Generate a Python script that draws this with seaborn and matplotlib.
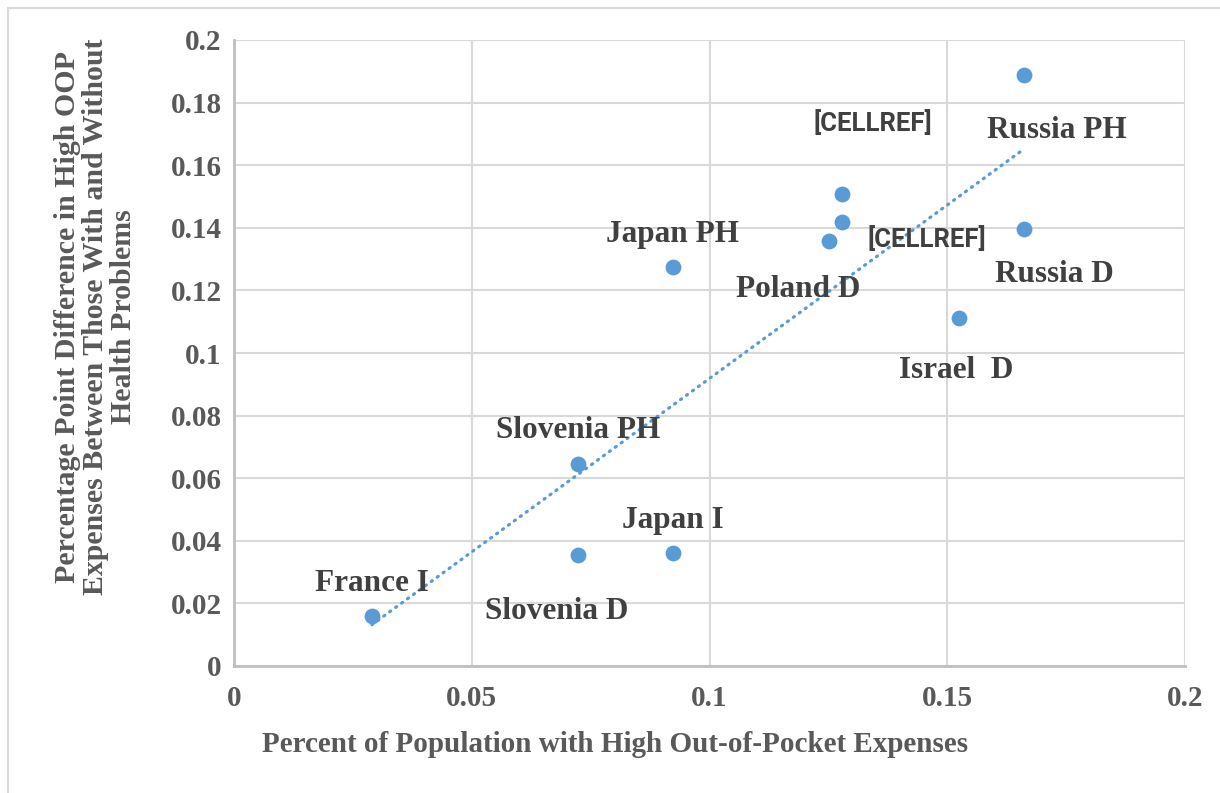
import matplotlib
matplotlib.use("Agg")
import matplotlib.pyplot as plt
from matplotlib.lines import Line2D
import numpy as np
import pandas as pd
import seaborn as sns

# Share of population with high out-of-pocket expenses vs. the gap between
# people with and without health problems
labels = ["France I", "Slovenia D", "Slovenia PH", "Japan I", "Japan PH",
          "Poland D", "[CELLREF]", "[CELLREF]", "Israel  D", "Russia D", "Russia PH"]
pct_high_oop = [0.0290, 0.0723, 0.0723, 0.0923, 0.0923,
                0.1251, 0.1279, 0.1279, 0.1525, 0.1661, 0.1661]
gap_health = [0.0160, 0.0355, 0.0645, 0.0361, 0.1275,
              0.1358, 0.1508, 0.1419, 0.1112, 0.1396, 0.1888]

x_ticks = [0, 0.05, 0.1, 0.15, 0.2]
x_tick_labels = ["0", "0.05", "0.1", "0.15", "0.2"]
y_ticks = [0, 0.02, 0.04, 0.06, 0.08, 0.1, 0.12, 0.14, 0.16, 0.18, 0.2]
y_tick_labels = ["0", "0.02", "0.04", "0.06", "0.08", "0.1",
                 "0.12", "0.14", "0.16", "0.18", "0.2"]

# label placement (offset in points from each marker)
label_offsets = [(0, 18), (-15, -46), (0, 19), (0, 18), (0, 18),
                 (-22, -40), (22, 45), (61, -18), (-2, -43), (22, -38), (24, -45)]

df = pd.DataFrame({"label": labels, "x": pct_high_oop, "y": gap_health})

sns.set_theme(style="white")
plt.rcParams["font.family"] = ["Liberation Serif", "DejaVu Serif"]

blue = "#5b9bd5"
text_dark = "#404040"
text_grey = "#595959"
grid_col = "#d9d9d9"

fig = plt.figure(figsize=(12.2, 7.93), dpi=100)
ax = fig.add_axes([234 / 1220, 127 / 793, 951 / 1220, 626 / 793])

ax.set_xlim(0, 0.2)
ax.set_ylim(0, 0.2)
ax.set_xticks(x_ticks)
ax.set_xticklabels(x_tick_labels)
ax.set_yticks(y_ticks)
ax.set_yticklabels(y_tick_labels)
ax.grid(True, color=grid_col, linewidth=1.5)
ax.set_axisbelow(True)

# dotted linear trend line
sns.regplot(data=df, x="x", y="y", ax=ax, scatter=False, ci=None, truncate=True,
            line_kws=dict(color=blue, linewidth=2.3, linestyle=(0, (0.4, 1.9)),
                          dash_capstyle="round", zorder=2))

sns.scatterplot(data=df, x="x", y="y", ax=ax, s=130, color=blue,
                edgecolor=blue, linewidth=0, zorder=3, legend=False)

ax.set_xlim(0, 0.2)
ax.set_ylim(0, 0.2)

for lab, xv, yv, off in zip(labels, pct_high_oop, gap_health, label_offsets):
    if lab.startswith("["):
        ax.annotate(lab, (xv, yv), xytext=off, textcoords="offset points",
                    ha="center", va="baseline", fontsize=18.5, fontweight="bold",
                    family=["Roboto", "DejaVu Sans"], color=text_dark, zorder=4)
    else:
        ax.annotate(lab, (xv, yv), xytext=off, textcoords="offset points",
                    ha="center", va="baseline", fontsize=22.5, fontweight="bold",
                    color=text_dark, zorder=4)

for side in ["top", "right"]:
    ax.spines[side].set_visible(False)
for side in ["left", "bottom"]:
    ax.spines[side].set_color("#bfbfbf")
    ax.spines[side].set_linewidth(2)

ax.tick_params(axis="both", length=0, labelsize=21, labelcolor=text_grey)
ax.tick_params(axis="y", pad=9)
ax.tick_params(axis="x", pad=14)
for t in ax.get_xticklabels() + ax.get_yticklabels():
    t.set_fontweight("bold")

ax.set_xlabel("Percent of Population with High Out-of-Pocket Expenses",
              fontsize=21, fontweight="bold", color=text_grey,
              ha="center", va="center")
ax.xaxis.set_label_coords(0.4006, -0.126)
ax.set_ylabel("Percentage Point Difference in High OOP\n"
              "Expenses Between Those With and Without\n"
              "Health Problems",
              fontsize=21.5, fontweight="bold", color=text_grey,
              ha="center", va="center", multialignment="center",
              linespacing=1.05)
ax.yaxis.set_label_coords(-0.146, 0.5575)

# light chart-area frame
fig.add_artist(Line2D([8 / 1220, 1.0], [1 - 8 / 793, 1 - 8 / 793],
                      transform=fig.transFigure, color=grid_col, linewidth=1.5))
fig.add_artist(Line2D([8 / 1220, 8 / 1220], [0.0, 1 - 8 / 793],
                      transform=fig.transFigure, color=grid_col, linewidth=1.5))

fig.savefig("out.png", dpi=100, facecolor="white")
